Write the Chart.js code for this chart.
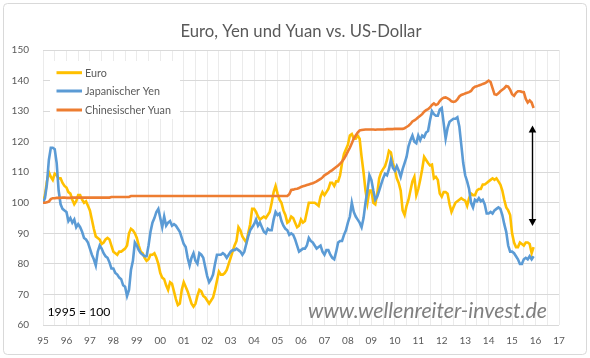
<!DOCTYPE html>
<html>
<head>
<meta charset="utf-8">
<script src="https://cdn.jsdelivr.net/npm/chart.js@4.4.0/dist/chart.umd.min.js"></script>
<style>
html,body{margin:0;padding:0;background:#fff;}
canvas{display:block;}
</style>
</head>
<body>
<canvas id="c" width="590" height="358"></canvas>
<script>
// ---- data (monthly, Jan 1995 .. Dec 2015, 1995 = 100) ----
const START_YEAR = 1995;
const seriesNames = ['Euro', 'Japanischer Yen', 'Chinesischer Yuan'];
const titleText = 'Euro, Yen und Yuan vs. US-Dollar';
const baseNote = '1995 = 100';
const sourceNote = 'www.wellenreiter-invest.de';

const euro = [
  100, 102.5, 107, 110, 108.5, 107.5, 109.5, 109, 108, 108, 106.5, 105.5,
  105, 103.5, 103, 101, 99.5, 100.5, 102.5, 102.5, 101, 100, 100.5, 99,
  97.5, 94.5, 91.5, 89, 88.5, 88, 86.5, 87, 88, 88.5, 88, 86,
  84, 83.5, 83, 84, 84, 84.5, 85, 86, 90, 91.5, 91, 90,
  88.5, 86, 84, 83.5, 82, 81, 81.5, 83, 83, 83.5, 82, 80,
  77, 75.5, 75, 73, 71.5, 74, 73.5, 71, 68.5, 66.5, 67, 71.5,
  74, 72.5, 71, 69, 67, 66, 67, 69.5, 71.5, 71, 69.5, 69,
  68, 67, 68, 69, 71.5, 74.5, 77.5, 76.5, 76.5, 77, 78, 80,
  82, 84, 86, 87.5, 92, 91, 89, 88, 87, 90, 93, 98,
  98, 97, 95.5, 94.5, 95, 95.5, 95, 96, 97, 100, 103.5, 105.5,
  103, 101, 100, 97.5, 96, 93.5, 94, 95.5, 95, 93.5, 92, 92.5,
  94.5, 93.5, 94, 97, 100, 100, 100, 100, 99.5, 99, 102, 103.5,
  102.5, 103.5, 104.5, 106.5, 106.5, 105.5, 107, 107, 109, 113, 116, 117.5,
  119, 122, 122.5, 121, 121, 122, 121, 115, 110, 104, 100, 104,
  104, 100, 99.5, 103, 108, 110, 111, 112, 114, 117, 116.5, 113,
  111, 108, 106.5, 104, 97.5, 96, 99, 101, 104, 107, 108.5, 102.5,
  104.5, 107.5, 111, 115, 114, 113, 112.2, 112.5, 108, 108.5, 107.5, 103,
  102, 103.5, 103.5, 103, 99.5, 97, 98.5, 100, 100.5, 101, 101.5, 101,
  100.7, 99, 101.5, 103, 102.5, 102.5, 104, 104.5, 104.5, 106, 106, 106.5,
  107, 107.5, 108, 107.5, 108, 107, 106, 104, 101, 98.5, 97.5, 96,
  90, 87, 85.5, 85.5, 87, 86.5, 86, 87, 87, 86.5, 83.5, 85.5
];

const yen = [
  100, 101.5, 106, 114, 118, 118, 117.5, 113, 104, 99.5, 98, 97.5,
  97, 94, 95, 93.5, 94.5, 92, 93, 92, 90.5, 88.5, 88, 87,
  85, 83, 81.5, 79.5, 84, 86, 85, 83.5, 82.5, 82, 80.5, 78.5,
  78.5, 77, 76.5, 75.5, 75, 73, 72.5, 69.5, 71.5, 78, 81, 87,
  86, 84.5, 83.5, 83, 82.5, 82.5, 86, 90.5, 93.5, 95, 97, 98,
  95, 92, 95.5, 92.5, 93.5, 94, 92.5, 93, 92.5, 91.5, 90.5, 88.5,
  86.5, 85.5, 82, 79.5, 82, 83.5, 81, 80, 83.5, 83, 82, 79,
  76, 74, 75, 76.5, 80, 83, 83, 83, 83.5, 83, 82, 83,
  84, 84.5, 84.5, 85, 84.5, 84, 83, 84, 86.5, 89, 91, 92,
  93, 94.5, 92.5, 93.5, 92, 90.5, 90, 91.5, 91, 91, 94.5, 97,
  96, 96.5, 94, 92.5, 91.5, 91, 89.5, 90, 89.5, 88, 86, 84,
  84.5, 85, 85, 86, 88.5, 87.5, 87, 86, 85, 85.5, 86, 84,
  83, 84.5, 84.5, 83, 82, 81.5, 84, 87, 87.5, 87.5, 89.5, 91,
  93.5, 95.5, 100, 97, 95.5, 94.5, 93.5, 92, 95, 100, 104, 109,
  107.5, 104, 101, 102, 104, 106, 108, 109.5, 109, 111, 114, 111.5,
  110.5, 112, 110.5, 108.5, 111, 113, 115, 118.5, 120.5, 122, 120, 119.5,
  122, 120.5, 122, 121.5, 123, 123.5, 127, 130, 129, 128.5, 128.5, 130.5,
  131, 126, 121, 124.5, 126.5, 127, 127.5, 127.5, 128, 125, 119, 113,
  109, 107, 104.5, 100, 98.5, 101, 100.5, 101.5, 100.5, 101, 99.5, 96.5,
  96.5, 97, 96.5, 97.5, 98, 98.5, 98, 96, 93, 90.5, 86, 84,
  84, 83.5, 82.5, 81.5, 80, 80, 81.5, 82, 81.5, 82.5, 81.5, 82.5
];

const yuan = [
  100, 100, 100.2, 100.4, 101.2, 101.5, 101.5, 101.6, 101.6, 101.6, 101.7, 101.7,
  101.6, 101.6, 101.6, 101.7, 101.7, 101.7, 101.7, 101.7, 101.7, 101.7, 101.7, 101.7,
  101.7, 101.7, 101.7, 101.7, 101.7, 101.7, 101.7, 101.7, 101.7, 101.7, 101.7, 101.9,
  101.9, 101.9, 101.9, 101.9, 101.9, 101.9, 101.9, 101.9, 101.9, 102.2, 102.2, 102.2,
  102.2, 102.2, 102.2, 102.2, 102.2, 102.2, 102.2, 102.2, 102.2, 102.2, 102.2, 102.2,
  102.2, 102.2, 102.2, 102.2, 102.2, 102.2, 102.2, 102.2, 102.2, 102.2, 102.2, 102.2,
  102.2, 102.2, 102.2, 102.2, 102.2, 102.2, 102.2, 102.2, 102.2, 102.2, 102.2, 102.2,
  102.2, 102.2, 102.2, 102.2, 102.2, 102.2, 102.2, 102.2, 102.2, 102.2, 102.2, 102.2,
  102.2, 102.2, 102.2, 102.2, 102.2, 102.2, 102.2, 102.2, 102.2, 102.2, 102.2, 102.2,
  102.2, 102.2, 102.2, 102.2, 102.2, 102.2, 102.2, 102.2, 102.2, 102.2, 102.2, 102.2,
  102.2, 102.2, 102.2, 102.2, 102.2, 102.2, 102.8, 104.2, 104.3, 104.5, 104.6, 104.8,
  105.2, 105.4, 105.6, 105.8, 106, 106.2, 106.4, 106.7, 107, 107.4, 107.8, 108.3,
  109, 109.4, 109.8, 110.3, 110.7, 111.2, 111.7, 112.2, 112.8, 113.5, 114.4, 115.5,
  116.8, 118, 119.5, 121, 122, 123, 123.7, 123.8, 123.9, 124, 124, 124,
  124, 124, 123.9, 124, 124, 124, 124, 124, 124.1, 124.1, 124.1, 124.1,
  124.2, 124.2, 124.2, 124.2, 124.2, 124.4, 124.8, 125.2, 125.8, 126.6, 127, 127.4,
  128, 128.5, 129, 129.8, 130.3, 130.6, 131.2, 132, 132.5, 132, 132.3, 133.3,
  134, 134.4, 134.5, 134.2, 133.8, 133.2, 133, 133.2, 133.8, 134.8, 135.3, 135.5,
  135.8, 136, 136.2, 136.6, 137.5, 138, 138.1, 138.4, 138.6, 138.9, 139.1, 139.5,
  140, 139.5, 137.5, 135.5, 135.3, 135.8, 136.5, 137, 137.5, 138.2, 138, 137,
  135.5, 135, 136, 136.5, 136.5, 136.3, 136.2, 134, 132.8, 133.5, 132.8, 131
];

// annotation arrow (year, index top, index bottom)
const arrowYear = 2015.87;
const arrowTop = 125.3;
const arrowBottom = 92.4;

// ---- styling ----
const FONT = 'Lato, "Open Sans", "DejaVu Sans", sans-serif';
const colors = ['#FFC000', '#5B9BD5', '#ED7D31'];
const TXT = '#595959';

function toPoints(arr) {
  return arr.map((v, i) => ({ x: START_YEAR + i / 12, y: v }));
}

const mctx = document.createElement('canvas').getContext('2d');
function fitSize(text, style, targetW) {
  mctx.font = style + ' 100px ' + FONT;
  return 100 * targetW / mctx.measureText(text).width;
}

const titleSize = Math.min(19, fitSize(titleText, '', 241));
const legendSize = Math.min(11.5, fitSize(seriesNames[2], '', 86));
const noteSize = Math.min(14, fitSize(baseNote, '', 63));
const srcSize = Math.min(24, fitSize(sourceNote, 'italic', 239));

const overlay = {
  id: 'overlay',
  beforeDraw(chart) {
    const c = chart.ctx;
    c.save();
    c.fillStyle = '#ffffff';
    c.fillRect(0, 0, chart.width, chart.height);
    c.restore();
  },
  afterDatasetsDraw(chart) {
    const c = chart.ctx;
    const xs = chart.scales.x, ys = chart.scales.y;
    c.save();
    // legend box
    c.fillStyle = '#ffffff';
    c.fillRect(50, 61, 130, 58);
    const rows = [72.7, 91, 110];
    c.font = legendSize + 'px ' + FONT;
    c.textBaseline = 'middle';
    c.textAlign = 'left';
    seriesNames.forEach((n, i) => {
      c.strokeStyle = colors[i];
      c.lineWidth = 3;
      c.lineCap = 'butt';
      c.beginPath();
      c.moveTo(56.5, rows[i]);
      c.lineTo(82, rows[i]);
      c.stroke();
      c.fillStyle = TXT;
      c.fillText(n, 85, rows[i] + 0.5);
    });
    // arrow
    const ax = xs.getPixelForValue(arrowYear);
    const at = ys.getPixelForValue(arrowTop);
    const ab = ys.getPixelForValue(arrowBottom);
    const hl = 7, hw = 3.8;
    c.strokeStyle = '#000';
    c.fillStyle = '#000';
    c.lineWidth = 1.4;
    c.beginPath();
    c.moveTo(ax, at + hl - 1);
    c.lineTo(ax, ab - hl + 1);
    c.stroke();
    c.beginPath();
    c.moveTo(ax, at); c.lineTo(ax - hw, at + hl); c.lineTo(ax + hw, at + hl); c.closePath(); c.fill();
    c.beginPath();
    c.moveTo(ax, ab); c.lineTo(ax - hw, ab - hl); c.lineTo(ax + hw, ab - hl); c.closePath(); c.fill();
    // notes
    c.textBaseline = 'middle';
    c.fillStyle = '#000000';
    c.font = noteSize + 'px ' + FONT;
    c.textAlign = 'left';
    c.fillText(baseNote, 47.5, 312);
    c.fillStyle = '#7f7f7f';
    c.font = 'italic ' + srcSize + 'px ' + FONT;
    c.fillText(sourceNote, 308, 311);
    // title
    c.fillStyle = TXT;
    c.font = titleSize + 'px ' + FONT;
    c.textAlign = 'center';
    c.fillText(titleText, 301, 32);
    c.restore();
  },
  afterDraw(chart) {
    const c = chart.ctx;
    c.save();
    c.strokeStyle = '#d9d9d9';
    c.lineWidth = 1;
    c.beginPath();
    if (c.roundRect) c.roundRect(3.5, 3.5, 583, 351, 4); else c.rect(3.5, 3.5, 583, 351);
    c.stroke();
    c.restore();
  }
};

const seriesData = [euro, yen, yuan];
new Chart(document.getElementById('c'), {
  type: 'line',
  data: {
    datasets: seriesData.map((arr, i) => ({
      label: seriesNames[i],
      data: toPoints(arr),
      borderColor: colors[i],
      backgroundColor: colors[i],
      borderWidth: 2.6,
      pointRadius: 0,
      tension: 0,
      fill: false,
      order: 2 - i
    }))
  },
  options: {
    responsive: false,
    animation: false,
    devicePixelRatio: 1,
    layout: { padding: { top: 50, right: 31, bottom: 0, left: 0 } },
    plugins: {
      legend: { display: false },
      title: { display: false },
      tooltip: { enabled: false }
    },
    scales: {
      x: {
        type: 'linear',
        min: 1995,
        max: 2017,
        ticks: {
          stepSize: 0.5,
          autoSkip: false,
          maxRotation: 0,
          padding: 10,
          color: TXT,
          font: { family: FONT, size: 10 },
          callback: (v) => Number.isInteger(v) ? String(v).slice(2) : ''
        },
        grid: { color: '#ebebeb', drawTicks: false, lineWidth: 1 },
        border: { display: false },
        afterFit(s) { s.height = 33; }
      },
      y: {
        min: 60,
        max: 150,
        ticks: {
          stepSize: 10,
          padding: 14,
          color: TXT,
          font: { family: FONT, size: 10 }
        },
        grid: { color: '#d9d9d9', drawTicks: false, lineWidth: 1 },
        border: { display: false },
        afterFit(s) { s.width = 43; }
      }
    }
  },
  plugins: [overlay]
});
</script>
</body>
</html>
